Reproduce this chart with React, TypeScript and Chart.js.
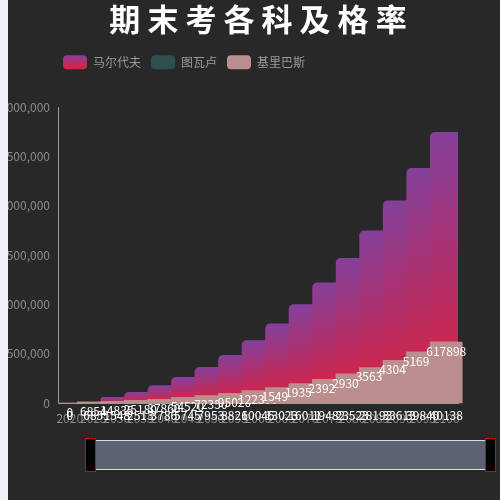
import { useRef, useEffect } from 'react';
import { Chart, registerables } from 'chart.js';

Chart.register(...registerables);

const FONT = "'Noto Sans CJK SC', 'Noto Sans', sans-serif";

// categorias (años) y series
const years = ['2020', '2025', '2030', '2035', '2040', '2045', '2050', '2055', '2060',
  '2065', '2070', '2075', '2080', '2085', '2090', '2095', '2100'];
const seriesNames = ['马尔代夫', '图瓦卢', '基里巴斯'];
const maldives = [0, 16000, 57000, 108000, 176000, 260000, 362000, 484000, 634000,
  803000, 997000, 1220000, 1468000, 1745000, 2050000, 2380000, 2746000];
const tuvalu = [0, 685, 1548, 2513, 3786, 5745, 7953, 8826, 10045,
  13023, 16011, 19482, 23523, 28193, 33613, 39840, 40138];
const kiribati = [0, 6854, 14835, 25180, 37860, 54520, 72350, 95020, 122390,
  154930, 193580, 239240, 293050, 356390, 430490, 516980, 617898];
const yTicks = { min: 0, max: 3000000, step: 500000 };

const PURPLE = '#84409b';
const RED = '#dc213d';
const LEGEND_BOX_TOP = 55;

// gradiente vertical por barra: morado arriba, rojo abajo
function barGradient(context: any) {
  const chart = context.chart;
  const y = chart.scales && chart.scales.y;
  if (!y || context.raw === undefined) return PURPLE;
  const top = y.getPixelForValue(context.raw);
  const bottom = y.getPixelForValue(0);
  if (bottom - top < 1) return RED;
  const g = chart.ctx.createLinearGradient(0, top, 0, bottom);
  g.addColorStop(0, PURPLE);
  g.addColorStop(1, RED);
  return g;
}

/** Etiquetas blancas de las barras. Las de 基里巴斯 se dibujan intercaladas con las barras,
 * así la barra siguiente tapa el final del número como en el original. */
const barLabels = {
  id: 'barLabels',
  afterDatasetDraw(chart: any, args: any) {
    if (args.index === 0) return;
    const { ctx } = chart;
    const meta = args.meta;
    const values = chart.data.datasets[args.index].data;
    ctx.save();
    ctx.font = '12px ' + FONT;
    ctx.fillStyle = '#fff';
    ctx.textAlign = 'center';
    ctx.textBaseline = 'top';
    meta.data.forEach((bar: any, i: number) => {
      const p = bar.getProps(['x', 'y', 'base'], true);
      if (args.index === 1) {
        ctx.fillText(String(values[i]), p.x, p.base + 6);
      } else {
        ctx.fillText(String(values[i]), p.x, p.y + 3);
        const next = meta.data[i + 1];
        if (next) next.draw(ctx);
      }
    });
    ctx.restore();
  }
};

// la leyenda empieza un poco a la izquierda del área del gráfico
const legendNudge = {
  id: 'legendNudge',
  afterLayout(chart: any) {
    if (chart.legend) chart.legend.left -= 5;
  }
};

export default function App() {
  const canvasRef = useRef<HTMLCanvasElement>(null);

  useEffect(() => {
    const canvas = canvasRef.current;
    if (!canvas) return;
    const context = canvas.getContext('2d');
    if (!context) return;

    Chart.defaults.font.family = FONT;

    const chart = new Chart(context, {
      type: 'bar',
      data: {
        labels: years,
        datasets: [
          {
            label: seriesNames[0],
            data: maldives,
            backgroundColor: barGradient,
            borderRadius: 5,
            barThickness: 32,
            grouped: false,
            order: 3
          },
          {
            label: seriesNames[1],
            data: tuvalu,
            backgroundColor: '#2f4f4f',
            barThickness: 32,
            grouped: false,
            order: 2
          },
          {
            label: seriesNames[2],
            data: kiribati,
            backgroundColor: '#bc8f8f',
            barThickness: 32,
            grouped: false,
            order: 1
          }
        ]
      } as any,
      options: {
        animation: false,
        responsive: false,
        layout: { padding: { left: 0, right: 0, top: 0, bottom: 67 } },
        scales: {
          x: {
            grid: { display: false, drawTicks: false },
            border: { display: true, color: '#9a9a9a' },
            ticks: {
              color: '#8c8c8c',
              font: { size: 12 },
              autoSkip: false,
              maxRotation: 0,
              minRotation: 0,
              padding: 8
            },
            // hueco a la derecha sin mover el título
            afterFit: (s: any) => { s.height = 30; s.paddingRight = 70; }
          },
          y: {
            min: yTicks.min,
            max: yTicks.max,
            grid: { display: false, drawTicks: false },
            border: { display: true, color: '#9a9a9a' },
            ticks: {
              stepSize: yTicks.step,
              color: '#8c8c8c',
              font: { size: 12 },
              padding: 8,
              callback: (v: any) => Number(v).toLocaleString('en-US')
            },
            afterFit: (s: any) => { s.width = 70; }
          }
        },
        plugins: {
          title: {
            display: true,
            text: '期 末 考 各 科 及 格 率',
            color: '#ffffff',
            font: { size: 31, weight: 'bold' },
            padding: { top: 1, bottom: 7 }
          },
          // separador vacío entre la leyenda y el área del gráfico
          subtitle: {
            display: true,
            text: '',
            weight: 900,
            font: { size: 12, lineHeight: 1 },
            padding: { top: 0, bottom: 16 }
          },
          legend: {
            display: true,
            position: 'top',
            align: 'start',
            fullSize: false,
            labels: {
              boxWidth: 24,
              boxHeight: 14,
              padding: 10,
              color: '#9a9a9a',
              font: { size: 12 },
              useBorderRadius: true,
              borderRadius: 4,
              sort: (a: any, b: any) => a.datasetIndex - b.datasetIndex,
              generateLabels: (c: any) => {
                const items = Chart.defaults.plugins.legend.labels.generateLabels(c);
                items.forEach((item: any) => {
                  if (item.datasetIndex === 0) {
                    const g = c.ctx.createLinearGradient(0, LEGEND_BOX_TOP, 0, LEGEND_BOX_TOP + 14);
                    g.addColorStop(0, PURPLE);
                    g.addColorStop(1, RED);
                    item.fillStyle = g;
                  }
                  item.lineWidth = 0;
                  item.strokeStyle = 'rgba(0,0,0,0)';
                });
                return items;
              }
            }
          },
          tooltip: { enabled: false }
        }
      } as any,
      plugins: [barLabels, legendNudge]
    });

    return () => {
      chart.destroy();
    };
  }, []);

  return (
    <div style={{ position: 'fixed', inset: 0, background: '#f1f2f6' }}>
      <div style={{ position: 'absolute', left: 8, top: 0, right: 0, bottom: 0, background: '#282828', overflow: 'hidden' }}>
        <canvas
          ref={canvasRef}
          width={540}
          height={500}
          style={{ position: 'absolute', left: -20, top: 0, width: 540, height: 500 }}
        />
        {/* barra de zoom de datos (dataZoom) */}
        <div style={{ position: 'absolute', left: 88, top: 440, width: 389, height: 30, boxSizing: 'border-box', background: '#5c6370', borderTop: '1px solid #dcdcdc', borderBottom: '1px solid #dcdcdc' }} />
        <div style={{ position: 'absolute', left: 77, top: 438, width: 11, height: 34, boxSizing: 'border-box', background: '#000', border: '1px solid #e00000' }} />
        <div style={{ position: 'absolute', left: 477, top: 438, width: 11, height: 34, boxSizing: 'border-box', background: '#000', border: '1px solid #e00000' }} />
      </div>
    </div>
  );
}
